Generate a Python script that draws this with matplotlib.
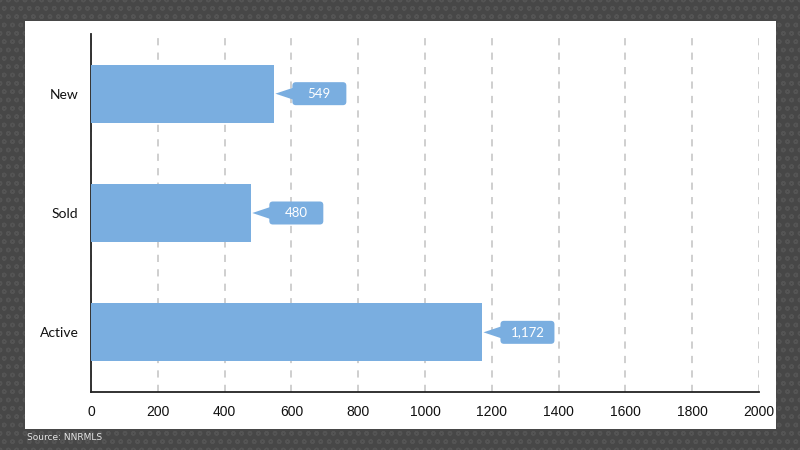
import matplotlib.pyplot as plt
from matplotlib.patches import Rectangle, FancyBboxPatch, Polygon
from matplotlib.transforms import ScaledTranslation

categories = ['Active', 'Sold', 'New']
values = [1172, 480, 549]
value_labels = ['1,172', '480', '549']
x_ticks = [0, 200, 400, 600, 800, 1000, 1200, 1400, 1600, 1800, 2000]

bar_color = '#7aaee0'

fig = plt.figure(figsize=(8, 4.5), dpi=100)
fig.patch.set_facecolor('#474747')

# patterned background, roughly
fig.patches.append(Rectangle((0, 0), 1, 1, transform=fig.transFigure, facecolor='none',
                             edgecolor='#545454', hatch='oo', linewidth=0, zorder=0))
# white card behind the chart
fig.patches.append(Rectangle((25 / 800, 21 / 450), 751 / 800, 408 / 450, transform=fig.transFigure,
                             facecolor='white', edgecolor='none', zorder=1))

ax = fig.add_axes([91 / 800, 58 / 450, 668 / 800, 358 / 450])
ax.set_facecolor('none')
ax.set_zorder(2)

ypos = list(range(len(categories)))
ax.barh(ypos, values, height=0.485, color=bar_color, zorder=3)

ax.set_xlim(0, 2000)
ax.set_ylim(-0.5, 2.5)
ax.set_xticks(x_ticks)
ax.set_xticklabels([str(t) for t in x_ticks], fontsize=10, family='Liberation Sans', color='#111111')
ax.set_yticks(ypos)
ax.set_yticklabels(categories, fontsize=10, family='Lato', color='#111111')
ax.tick_params(axis='x', length=0, pad=9)
ax.tick_params(axis='y', length=0, pad=9)

ax.grid(axis='x', color='#cccccc', linestyle=(0, (4, 4)), linewidth=1.3, zorder=0)
ax.set_axisbelow(True)
for s in ['top', 'right']:
    ax.spines[s].set_visible(False)
for s in ['left', 'bottom']:
    ax.spines[s].set_color('#222222')
    ax.spines[s].set_linewidth(1.3)

# callout labels, drawn in pixel offsets (dpi 100 -> 0.01 in per px)
for y, v, lab in zip(ypos, values, value_labels):
    tr = fig.dpi_scale_trans + ScaledTranslation(v, y, ax.transData)
    ax.add_patch(Polygon([(0.01, 0), (0.19, 0.06), (0.19, -0.06)], closed=True, transform=tr,
                         facecolor=bar_color, edgecolor='none', zorder=4, clip_on=False))
    ax.add_patch(FancyBboxPatch((0.19, -0.105), 0.52, 0.21, boxstyle='round,pad=0.01,rounding_size=0.035',
                                transform=tr, facecolor=bar_color, edgecolor='none', zorder=4, clip_on=False))
    ax.text(0.45, 0.0, lab, transform=tr, ha='center', va='center', color='white',
            fontsize=9.5, family='Lato', zorder=5)

fig.text(27 / 800, 1 - 438 / 450, 'Source: NNRMLS', color='#e6e6e6', fontsize=6.5,
         family=['Liberation Sans Narrow', 'DejaVu Sans'], va='center', ha='left')

fig.savefig('out.png', dpi=100, facecolor=fig.get_facecolor())
